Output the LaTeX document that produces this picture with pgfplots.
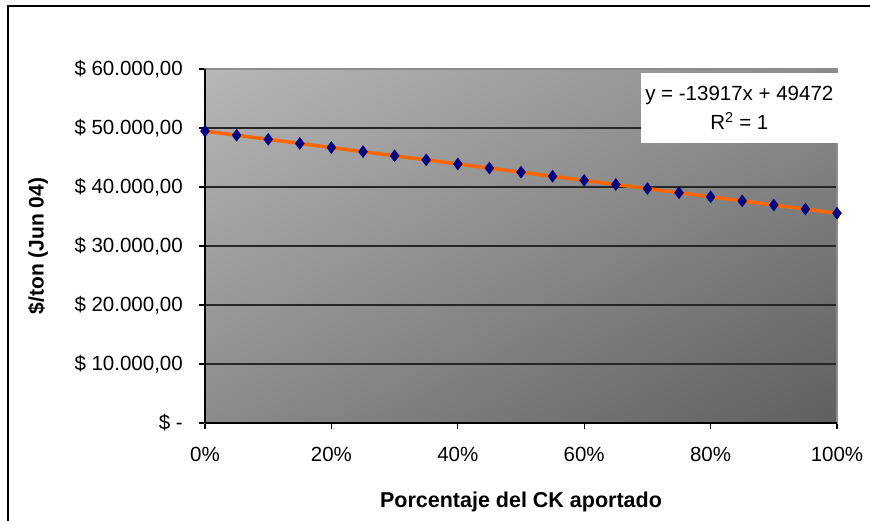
\documentclass[border=0pt]{standalone}
\usepackage{pgfplots}
\pgfplotsset{compat=1.18}
\usepackage{fontspec}
\setmainfont{Liberation Sans}
\definecolor{mknavy}{HTML}{000080}
\definecolor{trendorange}{HTML}{FF6600}
\pgfdeclarefunctionalshading{diaggray}{\pgfpoint{-50bp}{-50bp}}{\pgfpoint{50bp}{50bp}}{}{
  neg add 100 add 200 div 0.68 mul neg 0.885 add dup dup
}
\begin{document}
\fontsize{20.5}{24}\selectfont
\begin{tikzpicture}[x=1pt,y=1pt]
\useasboundingbox (0,0) rectangle (870,520);
\draw[line width=1.5pt] (8,-5) -- (8,514) -- (875,514);
\begin{axis}[
  at={(205pt,97pt)}, anchor=south west,
  scale only axis, width=632pt, height=354pt,
  xmin=0, xmax=1, ymin=0, ymax=60000,
  xtick={0,0.2,0.4,0.6,0.8,1},
  xticklabels={0\%,20\%,40\%,60\%,80\%,100\%},
  ytick={0,10000,20000,30000,40000,50000,60000},
  yticklabels={{\$ -\hspace{25pt}},{\$ 10.000,00},{\$ 20.000,00},{\$ 30.000,00},{\$ 40.000,00},{\$ 50.000,00},{\$ 60.000,00}},
  tick align=outside, major tick length=6pt,
  tick style={black, line width=1.2pt},
  xtick pos=bottom, ytick pos=left,
  ymajorgrids, major grid style={black!85, line width=1.5pt},
  axis line style={draw=gray!90, line width=1.5pt},
  yticklabel style={font=\fontsize{20.5}{24}\selectfont, anchor=east, inner sep=0pt, xshift=-16pt},
  xticklabel style={font=\fontsize{20.5}{24}\selectfont, anchor=north, inner sep=0pt, yshift=-18pt},
  axis background/.style={shade, shading=diaggray},
  clip=false,
  scaled ticks=false,
]
\addplot[only marks, mark=diamond*, mark size=6pt, mark options={fill=mknavy, draw=mknavy}] coordinates {
(0,49472) (0.05,48776.15) (0.10,48080.3) (0.15,47384.45) (0.20,46688.6)
(0.25,45992.75) (0.30,45296.9) (0.35,44601.05) (0.40,43905.2) (0.45,43209.35)
(0.50,42513.5) (0.55,41817.65) (0.60,41121.8) (0.65,40425.95) (0.70,39730.1)
(0.75,39034.25) (0.80,38338.4) (0.85,37642.55) (0.90,36946.7) (0.95,36250.85)
(1.00,35555)
};
\addplot[trendorange, line width=3.5pt, no marks] coordinates {(0,49472) (1,35555)};
\draw[black, line width=1.5pt] (rel axis cs:0,0) -- (rel axis cs:0,1);
\draw[black, line width=1.5pt] (rel axis cs:0,0) -- (rel axis cs:1,0);
\node[fill=white, anchor=north east, align=center, minimum width=197pt, minimum height=70pt, inner sep=2pt]
  at (rel axis cs:1.0016,0.989) {y = -13917x + 49472\\[5pt]R\textsuperscript{2} = 1};
\end{axis}
\node[font=\bfseries\fontsize{21.5}{24}\selectfont, anchor=base] at (521,13) {Porcentaje del CK aportado};
\node[font=\bfseries\fontsize{21}{24}\selectfont, rotate=90] at (38,274) {\$/ton (Jun 04)};
\end{tikzpicture}
\end{document}
